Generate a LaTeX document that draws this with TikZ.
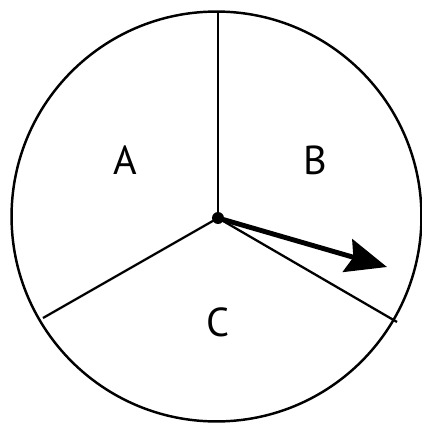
\documentclass[tikz,border=0pt]{standalone}
\usepackage{fontspec}
\setmainfont{PT Sans}
\usetikzlibrary{arrows.meta}
\tikzset{rim/.style={line width=1.4pt,draw=black}, spoke/.style={line width=1.3pt,draw=black}, pointer/.style={-{Stealth[length=0.82cm,width=0.68cm,inset=0.12cm]},line width=2.8pt,draw=black}, region/.style={font=\fontsize{23}{26}\selectfont,inner sep=0pt}}
\begin{document}
\begin{tikzpicture}[x=0.02cm,y=-0.02cm]
\useasboundingbox (0,0) rectangle (422,423);
\coordinate (o) at (218,218);
\coordinate (top) at (218,11);
\coordinate (left) at (43,318);
\coordinate (right) at (397,322);
\coordinate (tip) at (387,267);
\draw[rim] (216.5,216.5) circle[radius=4.1cm];
\draw[spoke] (o)--(top);
\draw[spoke] (o)--(left);
\draw[spoke] (o)--(right);
\draw[pointer] (o)--(tip);
\fill (o) circle[radius=0.12cm];
\node[region] (a) at (125,160) {A};
\node[region] (b) at (315,160) {B};
\node[region] (c) at (218,322) {C};
\end{tikzpicture}
\end{document}
